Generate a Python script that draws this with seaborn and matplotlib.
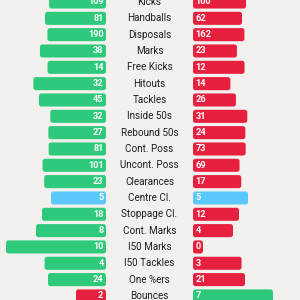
import matplotlib
matplotlib.use("Agg")
import matplotlib.pyplot as plt
from matplotlib.patches import FancyBboxPatch
import seaborn as sns
import pandas as pd

categories = ["Kicks", "Handballs", "Disposals", "Marks", "Free Kicks", "Hitouts",
              "Tackles", "Inside 50s", "Rebound 50s", "Cont. Poss", "Uncont. Poss",
              "Clearances", "Centre Cl.", "Stoppage Cl.", "Cont. Marks", "I50 Marks",
              "I50 Tackles", "One %ers", "Bounces"]
left_values = [109, 81, 190, 38, 14, 32, 45, 32, 27, 81, 101, 23, 5, 18, 8, 10, 4, 24, 2]
right_values = [100, 62, 162, 23, 12, 14, 26, 31, 24, 73, 69, 17, 5, 12, 4, 0, 3, 21, 7]

GREEN = "#2ec97a"
RED = "#e8203f"
BLUE = "#5ac8fa"
BG = "#f2f1ee"

df = pd.DataFrame({"cat": categories, "left": left_values, "right": right_values})
tot = (df["left"] + df["right"]).replace(0, 1)
df["lshare"] = df["left"] / tot
df["rshare"] = df["right"] / tot
df["llen"] = 10 + 90 * df["lshare"]
df["rlen"] = 10 + 90 * df["rshare"]

def colour(a, b):
    if a > b:
        return GREEN
    if a < b:
        return RED
    return BLUE

lcols = [colour(a, b) for a, b in zip(df["left"], df["right"])]
rcols = [colour(b, a) for a, b in zip(df["left"], df["right"])]

W = H = 300
fig = plt.figure(figsize=(3, 3), dpi=100, facecolor=BG)
row = 16.33
y0 = -2 / row
y1 = (H - 2) / row

axL = fig.add_axes([0, 0, 106 / W, 1])
axR = fig.add_axes([193 / W, 0, 107 / W, 1])
axM = fig.add_axes([106 / W, 0, 87 / W, 1])

sns.barplot(data=df, x="llen", y="cat", hue="cat", palette=lcols, legend=False,
            orient="h", width=0.8, saturation=1, ax=axL)
sns.barplot(data=df, x="rlen", y="cat", hue="cat", palette=rcols, legend=False,
            orient="h", width=0.8, saturation=1, ax=axR)

def roundify(ax, rad=2.5):
    aspect = 1 / row
    for p in list(ax.patches):
        x, y = p.get_x(), p.get_y()
        w, h = p.get_width(), p.get_height()
        fb = FancyBboxPatch((x, y), w, h,
                            boxstyle=f"round,pad=0,rounding_size={rad}",
                            mutation_aspect=aspect,
                            facecolor=p.get_facecolor(), edgecolor="none")
        p.remove()
        ax.add_patch(fb)

roundify(axL)
roundify(axR)

axL.set_xlim(106, 0)
axR.set_xlim(0, 107)
for ax in (axL, axR, axM):
    ax.set_ylim(y1, y0)
    ax.set_facecolor("none")
    ax.axis("off")
axM.set_xlim(0, 1)

for i, r in df.iterrows():
    axL.text(2.5, i, str(r["left"]), ha="right", va="center", color="white",
             fontsize=6.6, fontweight="bold", family="Roboto")
    axR.text(2.5, i, str(r["right"]), ha="left", va="center", color="white",
             fontsize=6.6, fontweight="bold", family="Roboto")
    axM.text(0.5, i, r["cat"], ha="center", va="center", color="#1e1e1e",
             fontsize=7.1, family="Roboto")

fig.savefig("out.png", dpi=100, facecolor=BG)
